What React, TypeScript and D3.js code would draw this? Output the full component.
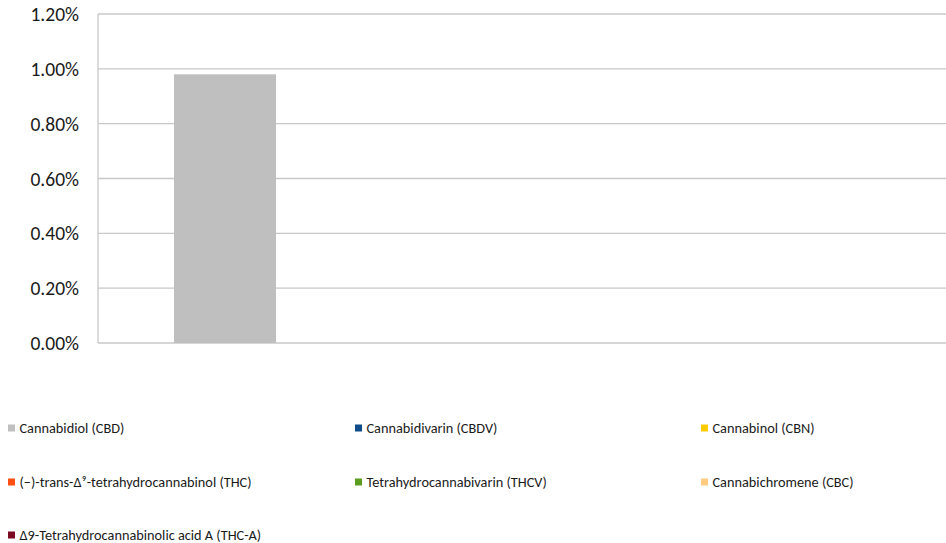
import React from "react";
import * as d3 from "d3";

const seriesNames = [
  "Cannabidiol (CBD)",
  "Cannabidivarin (CBDV)",
  "Cannabinol (CBN)",
  "(\u2212)-trans-\u0394\u2079-tetrahydrocannabinol (THC)",
  "Tetrahydrocannabivarin (THCV)",
  "Cannabichromene (CBC)",
  "\u03949-Tetrahydrocannabinolic acid A (THC-A)",
];
const seriesValues = [0.0098, 0, 0, 0, 0, 0, 0];
const seriesColors = ["#BFBFBF", "#0F4C8A", "#FFCC00", "#FF4F12", "#5B9E1F", "#FFCC80", "#7A0A24"];
const yTicks = [0, 0.002, 0.004, 0.006, 0.008, 0.01, 0.012];

const W = 946;
const H = 543;
const left = 98;
const right = 946;
const top = 14;
const bottom = 343;
const font = "Calibri, Carlito, Lato, 'Open Sans', sans-serif";

export default function App() {
  const y = d3.scaleLinear().domain([0, 0.012]).range([bottom, top]);
  const x = d3
    .scaleBand<string>()
    .domain(seriesNames)
    .range([left, right])
    .paddingInner(0)
    .paddingOuter(0.657)
    .align(0.567);
  const fmt = d3.format(".2%");

  const legendCols = [8, 355, 701];
  const legendRows = [428, 482, 535];

  return (
    <svg
      width={W}
      height={H}
      style={{ position: "absolute", left: 0, top: 0, background: "#fff" }}
      fontFamily={font}
    >
      {yTicks.map((t) => (
        <g key={t}>
          <line x1={left} x2={right} y1={y(t)} y2={y(t)} stroke="#C8C8C8" strokeWidth={1.3} />
          <text x={79} y={y(t)} dy="0.36em" textAnchor="end" fontSize={19.5} fill="#1a1a1a">
            {fmt(t)}
          </text>
        </g>
      ))}
      <line x1={left} x2={left} y1={top} y2={bottom} stroke="#C8C8C8" strokeWidth={1.3} />
      {seriesNames.map((s, i) =>
        seriesValues[i] > 0 ? (
          <rect
            key={s}
            x={x(s)}
            y={y(seriesValues[i])}
            width={x.bandwidth()}
            height={bottom - y(seriesValues[i])}
            fill={seriesColors[i]}
          />
        ) : null
      )}
      {seriesNames.map((s, i) => {
        const cx = legendCols[i % 3];
        const cy = legendRows[Math.floor(i / 3)];
        return (
          <g key={"lg" + i}>
            <rect x={cx} y={cy - 3.5} width={7} height={7} fill={seriesColors[i]} />
            <text x={cx + 11.5} y={cy} dy="0.36em" fontSize={14.3} fill="#1a1a1a">
              {s}
            </text>
          </g>
        );
      })}
    </svg>
  );
}
